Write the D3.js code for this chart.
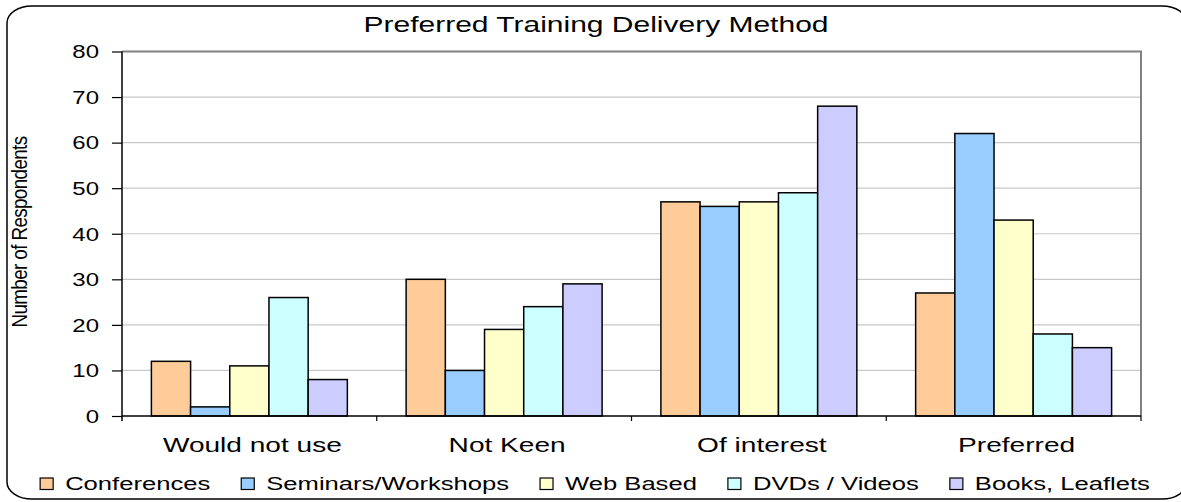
<!DOCTYPE html>
<html>
<head>
<meta charset="utf-8">
<script src="https://cdn.jsdelivr.net/npm/d3@7"></script>
<style>
body { margin: 0; background: #fff; }
svg { display: block; font-family: "Liberation Sans", Arial, sans-serif; }
</style>
</head>
<body>
<div id="chart"></div>
<script>
const categories = ["Would not use", "Not Keen", "Of interest", "Preferred"];
const seriesNames = ["Conferences", "Seminars/Workshops", "Web Based", "DVDs / Videos", "Books, Leaflets"];
const conferences = [12, 30, 47, 27];
const seminars = [2, 10, 46, 62];
const webBased = [11, 19, 47, 43];
const dvds = [26, 24, 49, 18];
const books = [8, 29, 68, 15];
const yTicks = [0, 10, 20, 30, 40, 50, 60, 70, 80];

const seriesValues = [conferences, seminars, webBased, dvds, books];
const colors = ["#FFCC99", "#99CCFF", "#FFFFCC", "#CCFFFF", "#CCCCFF"];

const width = 1181, height = 502;
const SX = 1.37; // text in the original is stretched horizontally
const plot = { left: 122, right: 1141, top: 51.5, bottom: 416 };

const svg = d3.select("#chart").append("svg")
    .attr("width", width)
    .attr("height", height);

// outer rounded frame
svg.append("rect")
    .attr("x", 7).attr("y", 6)
    .attr("width", 1180).attr("height", 493)
    .attr("rx", 25).attr("ry", 17)
    .attr("fill", "#fff")
    .attr("stroke", "#000")
    .attr("stroke-width", 1.5);

function stretchedText(g, x, y, str, size, anchor) {
    return g.append("text")
        .attr("transform", `translate(${x},${y}) scale(${SX},1)`)
        .attr("text-anchor", anchor || "middle")
        .attr("font-size", size)
        .attr("fill", "#000")
        .text(str);
}

stretchedText(svg, 596, 32, "Preferred Training Delivery Method", 21.9);

const x0 = d3.scaleBand()
    .domain(categories)
    .range([plot.left, plot.right]);

const x1 = d3.scaleBand()
    .domain(seriesNames)
    .range([0, x0.bandwidth()])
    .paddingInner(0)
    .paddingOuter(0.75);

const y = d3.scaleLinear()
    .domain([0, 80])
    .range([plot.bottom, plot.top]);

// gridlines
svg.append("g")
    .selectAll("line")
    .data(yTicks.filter(d => d > 0 && d < 80))
    .enter().append("line")
    .attr("x1", plot.left).attr("x2", plot.right)
    .attr("y1", d => y(d)).attr("y2", d => y(d))
    .attr("stroke", "#c8c8c8")
    .attr("stroke-width", 1.2);

// plot frame top / right
svg.append("path")
    .attr("d", `M${plot.left},${y(80)}H${plot.right}V${plot.bottom}`)
    .attr("fill", "none")
    .attr("stroke", "#808080")
    .attr("stroke-width", 2);

// bars
const groups = svg.append("g")
    .selectAll("g")
    .data(categories)
    .enter().append("g")
    .attr("transform", d => `translate(${x0(d)},0)`);

groups.selectAll("rect")
    .data((c, i) => seriesNames.map((s, j) => ({ series: s, idx: j, value: seriesValues[j][i] })))
    .enter().append("rect")
    .attr("x", d => x1(d.series))
    .attr("y", d => y(d.value))
    .attr("width", x1.bandwidth())
    .attr("height", d => y(0) - y(d.value))
    .attr("fill", d => colors[d.idx])
    .attr("stroke", "#000")
    .attr("stroke-width", 1.5);

// y axis
const yAxis = svg.append("g")
    .attr("transform", `translate(${plot.left},0)`)
    .call(d3.axisLeft(y).tickValues(yTicks).tickSize(10).tickSizeOuter(0));
yAxis.select(".domain")
    .attr("d", `M0,${plot.top}V${plot.bottom + 5}`)
    .attr("stroke", "#000").attr("stroke-width", 1.5);
yAxis.selectAll(".tick line").attr("stroke", "#000").attr("stroke-width", 1.2);
yAxis.selectAll(".tick text")
    .attr("x", null).attr("dy", null)
    .attr("transform", `translate(-23,6.3) scale(${SX},1)`)
    .attr("font-size", 17.5)
    .attr("font-family", "Liberation Sans, Arial, sans-serif")
    .attr("fill", "#000");

// x axis
const xAxis = svg.append("g")
    .attr("transform", `translate(0,${plot.bottom})`)
    .call(d3.axisBottom(x0).tickSize(0).tickSizeOuter(0).tickFormat(""));
xAxis.select(".domain")
    .attr("d", `M${plot.left},0H${plot.right}`)
    .attr("stroke", "#000").attr("stroke-width", 1.5);
xAxis.selectAll(".tick").remove();

svg.append("g")
    .selectAll("line")
    .data(categories.slice(1))
    .enter().append("line")
    .attr("x1", d => x0(d)).attr("x2", d => x0(d))
    .attr("y1", plot.bottom).attr("y2", plot.bottom + 5)
    .attr("stroke", "#000").attr("stroke-width", 1.2);
svg.append("line")
    .attr("x1", plot.right).attr("x2", plot.right)
    .attr("y1", plot.bottom).attr("y2", plot.bottom + 5)
    .attr("stroke", "#000").attr("stroke-width", 1.2);

const catLabels = svg.append("g");
categories.forEach(c => {
    stretchedText(catLabels, x0(c) + x0.bandwidth() / 2 + 3, 451.5, c, 20.5);
});

// y axis title: condensed along its length, thick across
svg.append("text")
    .attr("transform", "translate(26.5,232) rotate(-90) scale(1,1.2)")
    .attr("text-anchor", "middle")
    .attr("font-size", 19)
    .attr("letter-spacing", -0.6)
    .attr("textLength", 191)
    .attr("lengthAdjust", "spacingAndGlyphs")
    .attr("fill", "#000")
    .text("Number of Respondents");

// legend, flowed left to right and centred
const legend = svg.append("g");
const items = seriesNames.map((name, i) => {
    const g = legend.append("g");
    g.append("rect")
        .attr("x", 0).attr("y", -12)
        .attr("width", 13).attr("height", 11.5)
        .attr("fill", colors[i])
        .attr("stroke", "#000")
        .attr("stroke-width", 1.2);
    const t = stretchedText(g, 25, 0, name, 18.7, "start");
    const w = 25 + t.node().getComputedTextLength() * SX;
    return { g, w };
});
const gap = 31;
const total = d3.sum(items, d => d.w) + gap * (items.length - 1);
let cx = 595 - total / 2;
items.forEach(d => {
    d.g.attr("transform", `translate(${cx},490)`);
    cx += d.w + gap;
});
</script>
</body>
</html>
